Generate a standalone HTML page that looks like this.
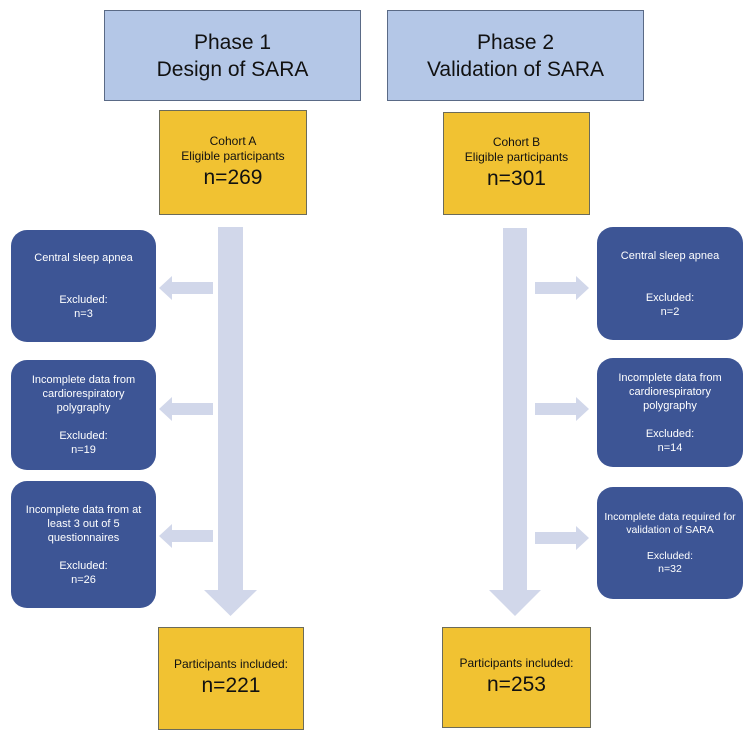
<!DOCTYPE html>
<html><head><style>
body{margin:0;width:753px;height:743px;background:#fff;position:relative;font-family:"Liberation Sans",sans-serif;overflow:hidden}
.a{position:absolute;box-sizing:border-box;display:flex;flex-direction:column;align-items:center;justify-content:center;text-align:center}
.ph{background:#b4c7e7;border:1.5px solid #5a6a86;font-size:21px;line-height:27px;color:#111}
.y{background:#f1c232;border:1px solid #6b6b5a;color:#111;font-size:12px;line-height:15px}
.y b{font-weight:normal;font-size:21px;line-height:28px}
.bl{background:#3d5595;border-radius:16px;color:#fff;font-size:11px;line-height:14px}
</style></head><body>
<div class="a ph" style="left:104px;top:10px;width:257px;height:91px">Phase 1<br>Design of SARA</div>
<div class="a ph" style="left:387px;top:10px;width:257px;height:91px">Phase 2<br>Validation of SARA</div>
<div class="a y" style="left:159px;top:110px;width:148px;height:105px">Cohort A<br>Eligible participants<b>n=269</b></div>
<div class="a y" style="left:443px;top:112px;width:147px;height:103px">Cohort B<br>Eligible participants<b>n=301</b></div>
<svg style="position:absolute;left:0;top:0" width="753" height="743">
<g fill="#d1d7ea">
<polygon points="218,227 243,227 243,590 257,590 230.5,616 204,590 218,590"/>
<polygon points="503,228 527,228 527,590 541,590 515,616 489,590 503,590"/>
<polygon points="213,282 172,282 172,276 159,288 172,300 172,294 213,294"/>
<polygon points="213,403 172,403 172,397 159,409 172,421 172,415 213,415"/>
<polygon points="213,530 172,530 172,524 159,536 172,548 172,542 213,542"/>
<polygon points="535,282 576,282 576,276 589,288 576,300 576,294 535,294"/>
<polygon points="535,403 576,403 576,397 589,409 576,421 576,415 535,415"/>
<polygon points="535,532 576,532 576,526 589,538 576,550 576,544 535,544"/>
</g></svg>
<div class="a bl" style="left:11px;top:230px;width:145px;height:112px">Central sleep apnea<br><br><br>Excluded:<br>n=3</div>
<div class="a bl" style="left:11px;top:360px;width:145px;height:110px">Incomplete data from<br>cardiorespiratory<br>polygraphy<br><br>Excluded:<br>n=19</div>
<div class="a bl" style="left:11px;top:481px;width:145px;height:127px">Incomplete data from at<br>least 3 out of 5<br>questionnaires<br><br>Excluded:<br>n=26</div>
<div class="a bl" style="left:597px;top:227px;width:146px;height:113px">Central sleep apnea<br><br><br>Excluded:<br>n=2</div>
<div class="a bl" style="left:597px;top:358px;width:146px;height:109px">Incomplete data from<br>cardiorespiratory<br>polygraphy<br><br>Excluded:<br>n=14</div>
<div class="a bl" style="left:597px;top:487px;width:146px;height:112px;font-size:10.5px;line-height:13px">Incomplete data required for<br>validation of SARA<br><br>Excluded:<br>n=32</div>
<div class="a y" style="left:158px;top:627px;width:146px;height:103px">Participants included:<b>n=221</b></div>
<div class="a y" style="left:442px;top:627px;width:149px;height:101px">Participants included:<b>n=253</b></div>
</body></html>
